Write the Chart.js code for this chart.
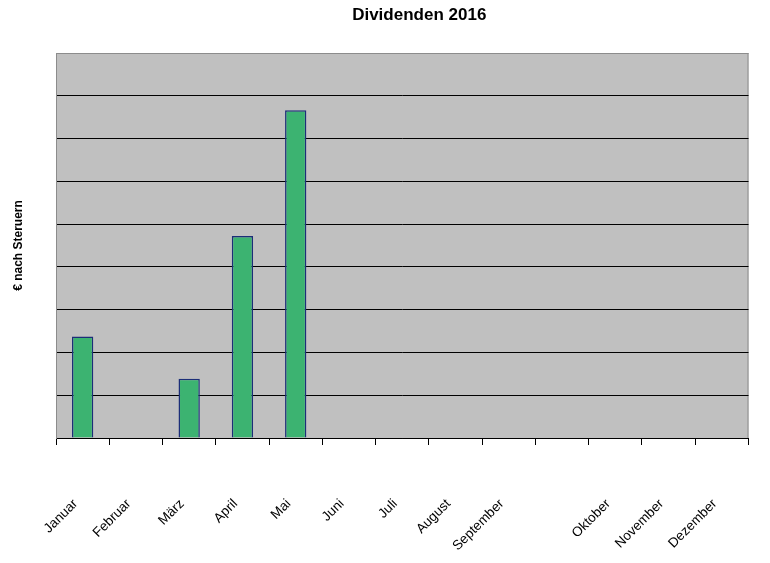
<!DOCTYPE html>
<html>
<head>
<meta charset="utf-8">
<script src="https://cdn.jsdelivr.net/npm/chart.js@4"></script>
<style>
html,body{margin:0;padding:0;background:#fff;}
#wrap{width:770px;height:563px;}
</style>
</head>
<body>
<div id="wrap"><canvas id="c" width="770" height="563"></canvas></div>
<script>
const titleText = "Dividenden 2016";
const yAxisTitle = "€ nach Steruern";
const categories = ["Januar","Februar","März","April","Mai","Juni","Juli","August","September","","Oktober","November","Dezember"];
const dividends = [2.37, null, 1.385, 4.72, 7.66, null, null, null, null, null, null, null, null];
const yTicks = [0,1,2,3,4,5,6,7,8,9];

const plotBg = {
  id: 'plotBg',
  beforeDraw(chart) {
    const {ctx, chartArea: a} = chart;
    ctx.save();
    ctx.fillStyle = '#c0c0c0';
    ctx.fillRect(a.left, a.top, a.right - a.left, a.bottom - a.top);
    ctx.strokeStyle = '#8c8c8c';
    ctx.lineWidth = 1;
    ctx.strokeRect(a.left + 0.5, a.top + 0.5, a.right - a.left - 1, a.bottom - a.top);
    ctx.restore();
  },
  afterDraw(chart) {
    const {ctx, chartArea: a} = chart;
    ctx.save();
    ctx.fillStyle = '#000';
    ctx.font = 'bold 17px "Liberation Sans", Arial, sans-serif';
    ctx.textAlign = 'center';
    ctx.textBaseline = 'alphabetic';
    ctx.fillText(titleText, (a.left + a.right) / 2 + 17, 20);
    ctx.restore();
  }
};

new Chart(document.getElementById('c'), {
  type: 'bar',
  data: {
    labels: categories,
    datasets: [{
      data: dividends,
      backgroundColor: '#3cb371',
      borderColor: '#1c2e78',
      borderWidth: 1.5,
      categoryPercentage: 1,
      barPercentage: 0.4
    }]
  },
  options: {
    responsive: false,
    animation: false,
    layout: { padding: { left: 0, right: 21.5, top: 53, bottom: 0 } },
    plugins: {
      legend: { display: false },
      tooltip: { enabled: false },
      title: { display: false }
    },
    scales: {
      x: {
        offset: true,
        afterFit(s) { s.height = 125; s.paddingRight = 0; s.paddingLeft = 0; },
        grid: {
          display: true,
          drawOnChartArea: false,
          drawTicks: true,
          tickLength: 7,
          color: '#000',
          offset: true
        },
        border: { display: true, color: '#000', width: 1 },
        ticks: {
          autoSkip: false,
          minRotation: 45,
          maxRotation: 45,
          padding: 51,
          labelOffset: -7,
          color: '#000',
          font: { family: 'Liberation Sans, Arial, sans-serif', size: 13.5 }
        }
      },
      y: {
        min: 0,
        max: 9,
        afterFit(s) { s.width = 56; },
        afterBuildTicks(s) { s.ticks = yTicks.map(v => ({ value: v })); },
        grid: {
          drawTicks: false,
          color: (c) => (c.tick && c.tick.value === 9) ? '#8c8c8c' : '#000',
          lineWidth: 1
        },
        border: { display: true, color: '#8c8c8c', width: 1 },
        ticks: { display: false },
        title: {
          display: true,
          text: yAxisTitle,
          color: '#000',
          font: { family: 'Liberation Sans, Arial, sans-serif', size: 12, weight: 'bold' },
          padding: { top: 11, bottom: 0 }
        }
      }
    }
  },
  plugins: [plotBg]
});
</script>
</body>
</html>
